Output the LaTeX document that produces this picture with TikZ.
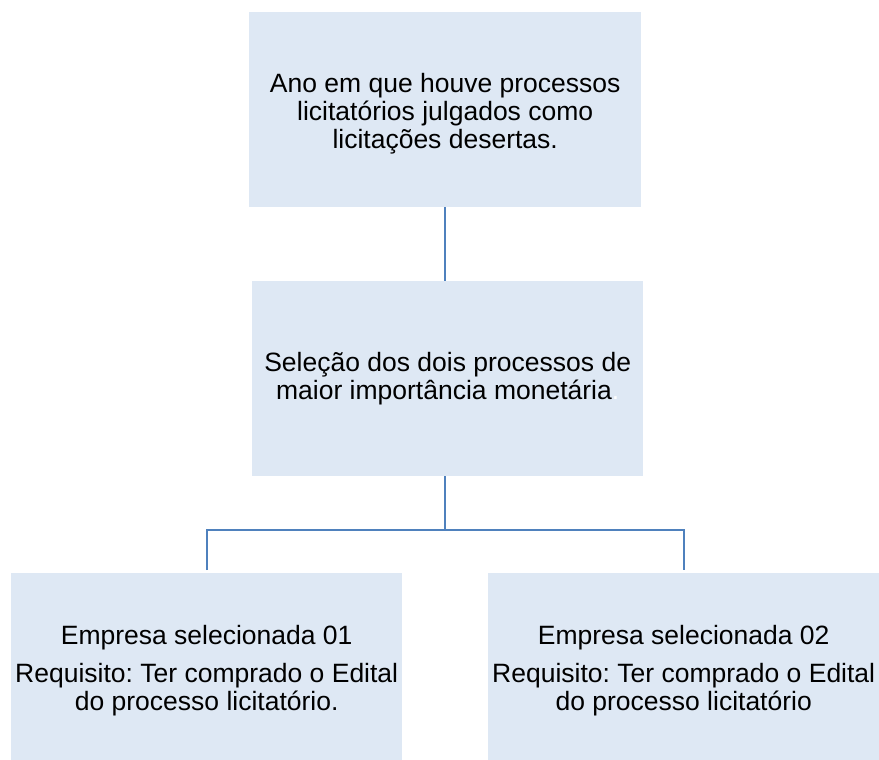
\documentclass[tikz,border=0pt]{standalone}
\usepackage{fontspec}
\setmainfont{Liberation Sans}
\frenchspacing
\definecolor{boxfill}{HTML}{DEE8F4}
\definecolor{linecol}{HTML}{4F81BD}
\begin{document}
\begin{tikzpicture}[x=1pt,y=1pt,
  box/.style={draw=none,fill=boxfill,anchor=north west,inner sep=0pt,
    align=center,font=\fontsize{26.5}{28}\selectfont},
  conn/.style={draw=linecol,line width=2.2pt}]
\useasboundingbox (0,0) rectangle (879,-760);
\fill[white] (0,0) rectangle (879,-760);
\node[box,minimum width=392pt,minimum height=195pt] (top) at (249,-12)
  {\raisebox{-5pt}[\height][\depth]{\begin{tabular}{@{}c@{}}Ano em que houve processos\\licitatórios julgados como\\licitações desertas.\end{tabular}}};
\node[box,minimum width=391pt,minimum height=195pt] (mid) at (252,-281)
  {Seleção dos dois processos de\\maior importância monetária\textcolor{white}{.}};
\node[box,minimum width=391pt,minimum height=187pt] (left) at (11,-573)
  {\raisebox{-5pt}[\height][\depth]{\begin{tabular}{@{}c@{}}Empresa selecionada 01\\[10pt]Requisito: Ter comprado o Edital\\do processo licitatório.\end{tabular}}};
\node[box,minimum width=391pt,minimum height=187pt] (right) at (488,-573)
  {\raisebox{-5pt}[\height][\depth]{\begin{tabular}{@{}c@{}}Empresa selecionada 02\\[10pt]Requisito: Ter comprado o Edital\\do processo licitatório\end{tabular}}};
\coordinate (j) at (445,-530);
\draw[conn] (j |- top.south) -- (j |- mid.north);
\draw[conn] (j |- mid.south) -- (j);
\draw[conn,line join=miter] ([yshift=3pt]left.north |- left.north) -- (left.north |- j) -- (right.north |- j) -- ([yshift=3pt]right.north);
\end{tikzpicture}
\end{document}
